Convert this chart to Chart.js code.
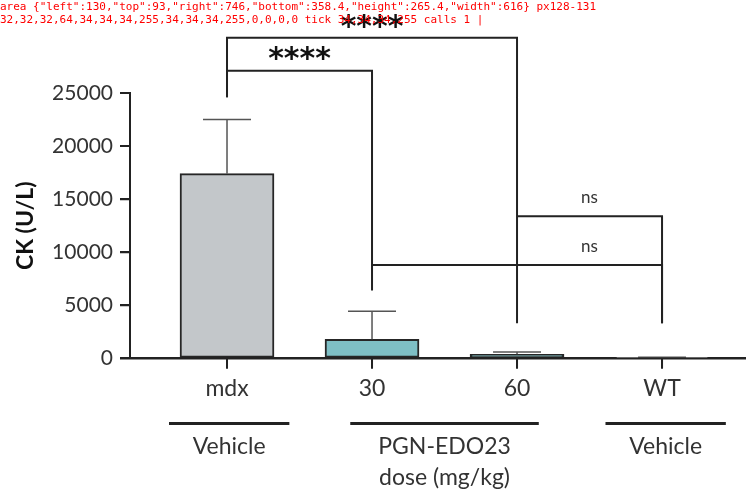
<!DOCTYPE html>
<html>
<head>
<meta charset="utf-8">
<script src="https://cdn.jsdelivr.net/npm/chart.js@4.4.1/dist/chart.umd.min.js"></script>
<style>
  body { margin: 0; background: #fff; }
  #wrap { width: 746px; height: 490px; }
  #dbg { position: absolute; top: 0; left: 0; font: 11px monospace; width: 740px; color: red; }
</style>
</head>
<body>
<div id="wrap"><canvas id="ck"></canvas></div>
<div id="dbg"></div>
<script>
const log = (s) => { document.getElementById("dbg").textContent += s + " | "; };
window.onerror = (m) => log("ERR " + m);

// values
const categories = ["mdx", "30", "60", "WT"];
const ckMean = [17400, 1800, 380, 40];
const ckUpper = [22500, 4450, 600, 100];
const barColors = ["#c3c7ca", "#7ebfc5", "#226468", "#e4e4e4"];
const yTicks = [0, 5000, 10000, 15000, 20000, 25000];

const brackets = [
  { from: 0, to: 1, top: 27100, legs: [24600, 6400], text: "****", textX: 0.5, textY: 28700 },
  { from: 0, to: 2, top: 30200, legs: [24600, 3300], text: "****", textX: 1, textY: 31700 },
  { from: 2, to: 3, top: 13400, legs: [13400, 3300], text: "ns", textX: 2.5, textY: 15200 },
  { from: 1, to: 3, top: 8800, legs: [8800, 3300], text: "ns", textX: 2.5, textY: 10500 },
];

const groupSpans = [[-0.4, 0.43], [0.85, 2.15], [2.61, 3.44]];
const groupLabels = [["Vehicle"], ["PGN-EDO23", "dose (mg/kg)"], ["Vehicle"]];

const FONT = "Lato, 'Noto Sans', sans-serif";
let calls = 0;

const extras = {
  id: "extras",
  afterDatasetsDraw(chart) {
    calls++;
    const { ctx, scales: { x, y }, chartArea } = chart;
    ctx.save();
    ctx.strokeStyle = "#555";
    ctx.lineWidth = 1.5;
    ckMean.forEach((m, i) => {
      const px = x.getPixelForValue(i);
      const y0 = y.getPixelForValue(m);
      const y1 = y.getPixelForValue(ckUpper[i]);
      ctx.beginPath();
      ctx.moveTo(px, y0);
      ctx.lineTo(px, y1);
      ctx.moveTo(px - 24, y1);
      ctx.lineTo(px + 24, y1);
      ctx.stroke();
    });
    ctx.strokeStyle = "#222";
    ctx.lineWidth = 2;
    ctx.textAlign = "center";
    ctx.textBaseline = "middle";
    brackets.forEach((b) => {
      const x1 = x.getPixelForValue(b.from);
      const x2 = x.getPixelForValue(b.to);
      const yt = y.getPixelForValue(b.top);
      ctx.beginPath();
      ctx.moveTo(x1, y.getPixelForValue(b.legs[0]));
      ctx.lineTo(x1, yt);
      ctx.lineTo(x2, yt);
      ctx.lineTo(x2, y.getPixelForValue(b.legs[1]));
      ctx.stroke();
      const tx = x.getPixelForValue(b.textX);
      const ty = y.getPixelForValue(b.textY);
      if (b.text === "ns") {
        ctx.font = "17px " + FONT;
        ctx.fillStyle = "#333";
        ctx.fillText(b.text, tx, ty);
      } else {
        ctx.font = "bold 30px 'DejaVu Sans', sans-serif";
        ctx.fillStyle = "#111";
        ctx.fillText(b.text, tx, ty + 6);
      }
    });
    const base = chartArea.bottom;
    ctx.fillStyle = "#333";
    ctx.font = "23px " + FONT;
    groupSpans.forEach((s, i) => {
      const a = x.getPixelForValue(s[0]);
      const c = x.getPixelForValue(s[1]);
      ctx.strokeStyle = "#222";
      ctx.lineWidth = 3;
      ctx.beginPath();
      ctx.moveTo(a, base + 65);
      ctx.lineTo(c, base + 65);
      ctx.stroke();
      groupLabels[i].forEach((t, k) => {
        ctx.fillText(t, (a + c) / 2, base + 88 + k * 31);
      });
    });
    ctx.strokeStyle = "#222";
    ctx.lineWidth = 2;
    ctx.beginPath();
    ctx.moveTo(chartArea.left, y.getPixelForValue(25000));
    ctx.lineTo(chartArea.left, chartArea.bottom);
    ctx.lineTo(chartArea.right, chartArea.bottom);
    yTicks.forEach((v) => {
      const py = y.getPixelForValue(v);
      ctx.moveTo(chartArea.left - 10, py);
      ctx.lineTo(chartArea.left, py);
    });
    categories.forEach((c, i) => {
      const px = x.getPixelForValue(i);
      ctx.moveTo(px, chartArea.bottom);
      ctx.lineTo(px, chartArea.bottom + 10);
    });
    ctx.stroke();
    ctx.restore();
  },
  afterDraw(chart) {
    const d = chart.ctx.getImageData(128, 200, 4, 1).data;
    const e = chart.ctx.getImageData(227, 363, 1, 1).data;
    log("area " + JSON.stringify(chart.chartArea) + " px128-131 " + Array.from(d).join(",") + " tick " + Array.from(e).join(",") + " calls " + calls);
  },
};

new Chart(document.getElementById("ck"), {
  type: "bar",
  data: {
    datasets: [{
      data: ckMean.map((v, i) => ({ x: i, y: v })),
      backgroundColor: barColors,
      borderColor: "#262626",
      borderWidth: 2,
      borderSkipped: false,
      barThickness: 94,
    }],
  },
  options: {
    responsive: true,
    maintainAspectRatio: false,
    animation: false,
    layout: { padding: { top: 93, left: 0, right: 0, bottom: 82 } },
    plugins: { legend: { display: false }, tooltip: { enabled: false } },
    scales: {
      x: {
        type: "linear", offset: false, min: -0.669, max: 3.579,
        afterBuildTicks: (s) => { s.ticks = categories.map((c, i) => ({ value: i })); },
        grid: { offset: false, drawOnChartArea: false, drawTicks: true, tickLength: 10, color: "#222", lineWidth: 2 },
        border: { display: true, color: "#222", width: 2 },
        ticks: { callback: (v) => categories[v] ?? "", color: "#333", font: { family: FONT, size: 23 }, padding: 6, maxRotation: 0 },
      },
      y: {
        min: 0, max: 25000,
        afterBuildTicks: (s) => { s.ticks = yTicks.map((v) => ({ value: v })); },
        afterFit: (s) => { s.width = 130; },
        grid: { drawOnChartArea: false, drawTicks: true, tickLength: 10, color: "#222", lineWidth: 2 },
        border: { display: true, color: "#222", width: 2 },
        ticks: { callback: (v) => String(v), color: "#333", font: { family: FONT, size: 21 }, padding: 7 },
        title: { display: true, text: "CK (U/L)", color: "#111", font: { family: FONT, size: 23, weight: "bold" }, padding: { top: 12, bottom: 0 } },
      },
    },
  },
  plugins: [extras],
});
</script>
</body>
</html>
